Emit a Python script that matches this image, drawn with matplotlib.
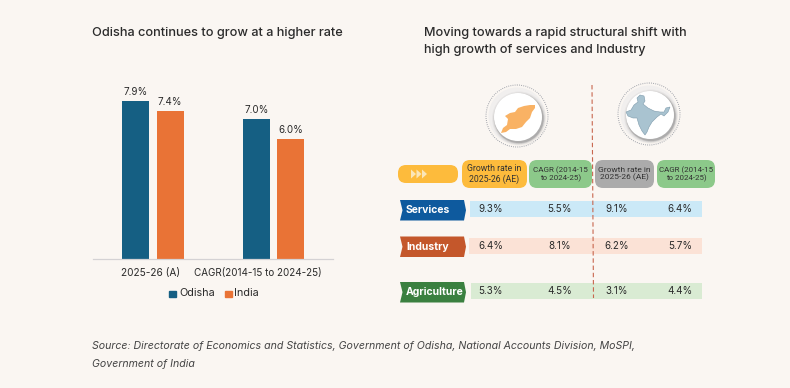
import numpy as np
import matplotlib
matplotlib.use('Agg')
import matplotlib.pyplot as plt
from matplotlib.patches import Circle, FancyBboxPatch, Polygon, Rectangle

plt.rcParams['font.family'] = ['Inter', 'DejaVu Sans']

# ── data ─────────────────────────────────────────────────────────────────────
groups = ['2025-26 (A)', 'CAGR(2014-15 to 2024-25)']
odisha = [7.9, 7.0]
india = [7.4, 6.0]

sectors = ['Services', 'Industry', 'Agriculture']
odisha_growth = ['9.3%', '6.4%', '5.3%']
odisha_cagr = ['5.5%', '8.1%', '4.5%']
india_growth = ['9.1%', '6.2%', '3.1%']
india_cagr = ['6.4%', '5.7%', '4.4%']

BG = '#FAF6F2'
BLUE = '#155F83'
ORANGE = '#E97336'
INK = '#2B2B2B'
W, H = 790, 388

fig = plt.figure(figsize=(W / 100, H / 100), dpi=100, facecolor=BG)

# ── overlay in pixel coordinates for the infographic parts ───────────────────
ov = fig.add_axes([0, 0, 1, 1])
ov.set_xlim(0, W)
ov.set_ylim(H, 0)
ov.axis('off')

# ── bar chart ────────────────────────────────────────────────────────────────
ax = fig.add_axes([93 / W, 1 - 259 / H, 240 / W, 190 / H])
ax.patch.set_alpha(0)
x = np.arange(len(groups))
ax.bar(x - 0.143, odisha, 0.224, color=BLUE)
ax.bar(x + 0.143, india, 0.224, color=ORANGE)
for i in x:
    ax.text(i - 0.143, odisha[i] + 0.2, f'{odisha[i]:.1f}%', ha='center', va='bottom', fontsize=7.1, color=INK)
    ax.text(i + 0.143, india[i] + 0.2, f'{india[i]:.1f}%', ha='center', va='bottom', fontsize=7.1, color=INK)
ax.set_xlim(-0.498, 1.494)
ax.set_ylim(0, 9.5)
ax.set_yticks([])
ax.set_xticks([])
for s in ['top', 'left', 'right']:
    ax.spines[s].set_visible(False)
ax.spines['bottom'].set_color('#D4D2D4')
ax.spines['bottom'].set_linewidth(0.9)

ov.text(151, 273, groups[0], ha='center', va='center', fontsize=7.3, color=INK)
ov.text(258, 273, groups[1], ha='center', va='center', fontsize=7.1, color=INK)

ov.add_patch(Rectangle((169, 290.5), 7, 6.5, color=BLUE))
ov.text(179, 293, 'Odisha', ha='left', va='center', fontsize=7.8, color=INK)
ov.add_patch(Rectangle((225, 290.5), 7, 6.5, color=ORANGE))
ov.text(234, 293, 'India', ha='left', va='center', fontsize=7.8, color=INK)

# ── titles ───────────────────────────────────────────────────────────────────
ov.text(92, 33, 'Odisha continues to grow at a higher rate', ha='left', va='center',
        fontsize=9.2, fontweight='medium', color=INK)
ov.text(424, 33, 'Moving towards a rapid structural shift with', ha='left', va='center',
        fontsize=9.1, fontweight='medium', color=INK)
ov.text(424, 50, 'high growth of services and Industry', ha='left', va='center',
        fontsize=9.1, fontweight='medium', color=INK)


# ── map badges ───────────────────────────────────────────────────────────────
def badge(cx, cy):
    ov.add_patch(Circle((cx - 1, cy - 1), 31, fc='none', ec='#8A8F99', lw=0.7, ls=(0, (0.8, 1.4))))
    ov.add_patch(Circle((cx - 1, cy - 1), 28.5, fc='#F1EFEE', ec='none'))
    for r, a in [(27, 0.05), (26, 0.08), (25.2, 0.12), (24.6, 0.2)]:
        ov.add_patch(Circle((cx + 1, cy + 1.5), r, fc='#444444', alpha=a, ec='none'))
    ov.add_patch(Circle((cx, cy), 24, fc='white', ec='none'))


badge(518, 117)
badge(650, 115)

odisha_shape = [(501, 133), (503, 128), (507, 125), (508, 119), (505, 116), (510, 113),
                (515, 112), (518, 108), (524, 106), (530, 105), (535, 105), (535, 108),
                (532, 112), (530, 118), (526, 122), (522, 127), (516, 129), (510, 129),
                (506, 132)]
ov.add_patch(Polygon(odisha_shape, fc='#F9B264', ec='none', zorder=3))

india_shape = [(637, 98), (640, 95), (644, 96), (645, 101), (643, 104), (648, 108),
               (654, 111), (660, 112), (664, 112), (666, 108), (670, 107), (668, 112),
               (664, 116), (661, 114), (657, 117), (652, 122), (649, 127), (647, 132),
               (645, 135), (642, 131), (639, 125), (637, 118), (633, 118), (628, 116),
               (626, 112), (631, 110), (634, 105), (638, 102)]
ov.add_patch(Polygon(india_shape, fc='#A9C3D0', ec='#7E9BAC', lw=0.4, zorder=3))

# dashed divider between Odisha and India columns
ov.plot([592, 593.5], [85, 298], color='#C8674F', lw=0.8, ls=(0, (4, 2.5)), zorder=5)


# ── header pills ─────────────────────────────────────────────────────────────
def pill(x0, x1, y0, y1, color, text=None, rad=8, size=6.2):
    ov.add_patch(FancyBboxPatch((x0 + rad, y0 + rad), x1 - x0 - 2 * rad, y1 - y0 - 2 * rad,
                                boxstyle=f'round,pad={rad}', fc=color, ec='none'))
    if text:
        ov.text((x0 + x1) / 2, (y0 + y1) / 2, text, ha='center', va='center', fontsize=size,
                family='Roboto', color='#333333', linespacing=1.15, zorder=6)


pill(398, 458, 165, 183, '#FDBB3C')
for px in (411, 416.5, 422):
    ov.add_patch(Polygon([(px, 169.5), (px + 5, 174), (px, 178.5)], fc='#FBE6B8', ec='none'))
pill(462, 527, 160, 188, '#FDBB3C', 'Growth rate in\n2025-26 (AE)')
pill(529, 592, 160, 188, '#8CC98A', 'CAGR (2014-15\nto 2024-25)', size=5.8)
pill(595, 654, 160, 188, '#ABABAB', 'Growth rate in\n2025-26 (AE)', size=6.0)
pill(657, 715, 160, 188, '#8CC98A', 'CAGR (2014-15\nto 2024-25)', size=5.7)

# ── sector rows ──────────────────────────────────────────────────────────────
band_colors = ['#CBE9F7', '#FBE2D6', '#D9EBD3']
tag_colors = ['#0E5A9E', '#C4572B', '#3A8040']
band_tops = [201, 238, 283]
band_x0 = [470, 469, 471]
tag_tops = [200, 236.5, 282]
text_y = [209, 246, 291]

for i, sector in enumerate(sectors):
    ov.add_patch(Rectangle((band_x0[i], band_tops[i]), 702 - band_x0[i], 16, fc=band_colors[i], ec='none'))
    t = tag_tops[i]
    tag = [(400, t), (464, t), (466, t + 10.2), (464, t + 20.5), (400, t + 20.5), (402.5, t + 10.2)]
    ov.add_patch(Polygon(tag, fc=tag_colors[i], ec='none'))
    ov.text(406, t + 10, sector, ha='left', va='center', fontsize=7.5, fontweight='bold', color='white', zorder=6)
    ov.text(490.5, text_y[i], odisha_growth[i], ha='center', va='center', fontsize=7.1, color=INK, zorder=6)
    ov.text(560, text_y[i], odisha_cagr[i], ha='center', va='center', fontsize=7.1, color=INK, zorder=6)
    ov.text(617, text_y[i], india_growth[i], ha='center', va='center', fontsize=7.1, color=INK, zorder=6)
    ov.text(680, text_y[i], india_cagr[i], ha='center', va='center', fontsize=7.1, color=INK, zorder=6)

# ── source note ──────────────────────────────────────────────────────────────
ov.text(92, 346, 'Source: Directorate of Economics and Statistics, Government of Odisha, National Accounts Division, MoSPI,',
        ha='left', va='center', fontsize=7.62, style='italic', color='#444444')
ov.text(92, 364, 'Government of India', ha='left', va='center', fontsize=7.62, style='italic', color='#444444')

fig.savefig('out.png', dpi=100, facecolor=BG)
